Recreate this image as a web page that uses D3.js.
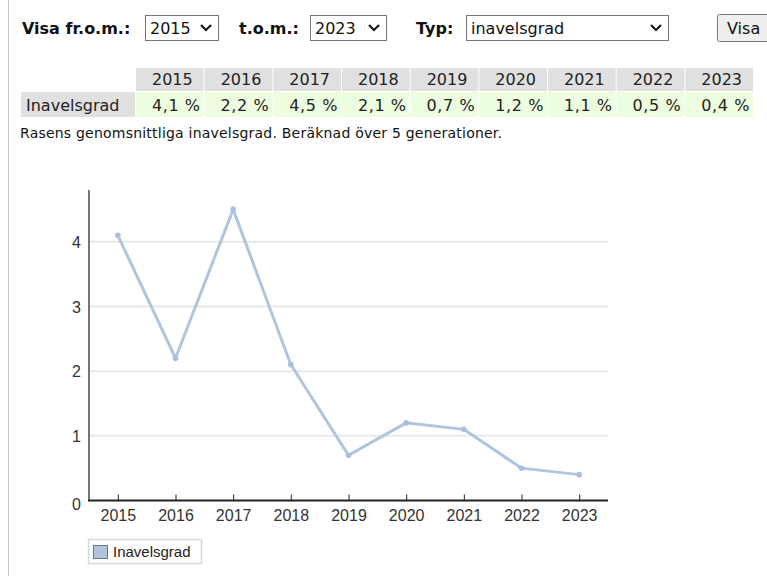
<!DOCTYPE html>
<html>
<head>
<meta charset="utf-8">
<script src="https://cdn.jsdelivr.net/npm/d3@7"></script>
<style>
  body { margin: 0; background: #fff; }
  svg text { font-family: "DejaVu Sans", Verdana, sans-serif; }
  .chart text { font-family: "Liberation Sans", Arial, sans-serif; }
</style>
</head>
<body>
<svg id="page" width="767" height="576"></svg>
<script>
// data
var years = ["2015", "2016", "2017", "2018", "2019", "2020", "2021", "2022", "2023"];
var values = [4.1, 2.2, 4.5, 2.1, 0.7, 1.2, 1.1, 0.5, 0.4];
var yTicks = [0, 1, 2, 3, 4];
var seriesName = "Inavelsgrad";
var caption = "Rasens genomsnittliga inavelsgrad. Beräknad över 5 generationer.";

const svg = d3.select('#page');
const lineColor = "#b0c4de";

// left page border
svg.append('line').attr('x1', 8.5).attr('x2', 8.5).attr('y1', 0).attr('y2', 576)
    .attr('stroke', '#c8c8c8');

// ---- top form row ----
const form = svg.append('g');
const label = (x, t) => form.append('text').attr('x', x).attr('y', 34)
    .attr('font-size', '16px').attr('font-weight', 'bold').attr('fill', '#111').text(t);

// fake select box with chevron
const selectBox = (x, w, t) => {
    form.append('rect').attr('x', x + 0.5).attr('y', 15.5).attr('width', w).attr('height', 25)
        .attr('fill', '#fff').attr('stroke', '#767676');
    form.append('text').attr('x', x + 5).attr('y', 34).attr('font-size', '16px')
        .attr('fill', '#111').text(t);
    const cx = x + w - 12;
    form.append('path').attr('d', `M${cx - 5},25 L${cx},30 L${cx + 5},25`)
        .attr('fill', 'none').attr('stroke', '#111').attr('stroke-width', 2);
}

label(22, "Visa fr.o.m.:");
selectBox(145, 73, years[0]);
label(239, "t.o.m.:");
selectBox(310, 76, years[years.length - 1]);
label(416, "Typ:");
selectBox(466, 202, "inavelsgrad");

form.append('rect').attr('x', 717.5).attr('y', 14.5).attr('width', 60).attr('height', 27)
    .attr('rx', 2).attr('fill', '#efefef').attr('stroke', '#767676');
form.append('text').attr('x', 727).attr('y', 34).attr('font-size', '16px')
    .attr('fill', '#111').text("Visa");

// ---- table ----
const colX = d3.scaleBand().domain(years).range([136, 754]);
const table = svg.append('g');
const headTop = 68, headH = 23, rowTop = 92, rowH = 25;

table.selectAll('rect.head').data(years).enter().append('rect')
    .attr('class', 'head')
    .attr('x', d => colX(d)).attr('y', headTop)
    .attr('width', colX.bandwidth() - 1).attr('height', headH)
    .attr('fill', '#e0e0e0');
table.selectAll('text.head').data(years).enter().append('text')
    .attr('class', 'head')
    .attr('x', d => colX(d) + colX.bandwidth() / 2 + 2).attr('y', headTop + 17)
    .attr('text-anchor', 'middle').attr('font-size', '16px').attr('fill', '#222')
    .text(d => d);

table.append('rect').attr('x', 21).attr('y', rowTop)
    .attr('width', 114).attr('height', rowH).attr('fill', '#e0e0e0');
table.append('text').attr('x', 26).attr('y', rowTop + 19)
    .attr('font-size', '16px').attr('fill', '#222').text(seriesName);

table.selectAll('rect.val').data(values).enter().append('rect')
    .attr('class', 'val')
    .attr('x', (d, i) => colX(years[i])).attr('y', rowTop)
    .attr('width', colX.bandwidth() - 1).attr('height', rowH)
    .attr('fill', '#edfde0');
table.selectAll('text.val').data(values).enter().append('text')
    .attr('class', 'val')
    .attr('x', (d, i) => colX(years[i]) + colX.bandwidth() - 4).attr('y', rowTop + 19)
    .attr('text-anchor', 'end').attr('font-size', '16px').attr('fill', '#222')
    .attr('letter-spacing', '0.6px')
    .text(d => d3.format('.1f')(d).replace('.', ',') + ' %');

svg.append('text').attr('x', 20).attr('y', 138).attr('font-size', '14px')
    .attr('fill', '#111').attr('textLength', 482).text(caption);

// ---- chart ----
const chart = svg.append('g').attr('class', 'chart');
const x = d3.scalePoint().domain(years).range([89, 608]).padding(0.5);
const y = d3.scaleLinear().domain([0, 4.8]).range([500.5, 190]);

// gridlines
chart.append('g').selectAll('line').data(yTicks.slice(1)).enter().append('line')
    .attr('x1', 89).attr('x2', 608)
    .attr('y1', d => y(d)).attr('y2', d => y(d))
    .attr('stroke', '#e8e8e8').attr('stroke-width', 2);

// y axis
const yAxis = chart.append('g').attr('transform', 'translate(89,0)')
    .call(d3.axisLeft(y).tickValues(yTicks).tickSize(0).tickPadding(8).tickFormat(d3.format('d')));
yAxis.select('.domain').attr('stroke', '#777').attr('stroke-width', 2)
    .attr('d', `M0,${y.range()[1]}V${y.range()[0]}`);
yAxis.selectAll('text').attr('font-size', '16px').attr('fill', '#333')
    .attr('dy', (d) => d === 0 ? '0.55em' : '0.35em');

// x axis
const xAxis = chart.append('g').attr('transform', `translate(0,${y(0)})`)
    .call(d3.axisBottom(x).tickSize(-6).tickPadding(9));
xAxis.select('.domain').attr('stroke', '#222').attr('stroke-width', 2)
    .attr('d', 'M88,0H608');
xAxis.selectAll('.tick line').attr('stroke', '#222');
xAxis.selectAll('text').attr('font-size', '16px').attr('fill', '#333');

// series line
const line = d3.line().x((d, i) => x(years[i])).y(d => y(d));
chart.append('path').datum(values)
    .attr('d', line).attr('fill', 'none')
    .attr('stroke', lineColor).attr('stroke-width', 3);
chart.selectAll('circle').data(values).enter().append('circle')
    .attr('cx', (d, i) => x(years[i])).attr('cy', d => y(d)).attr('r', 2.8)
    .attr('fill', '#a9bedb');

// legend
const legend = chart.append('g');
legend.append('rect').attr('x', 88.5).attr('y', 539.5).attr('width', 113).attr('height', 24)
    .attr('fill', '#fff').attr('stroke', '#d8d8d8').attr('stroke-width', 1.5);
legend.append('rect').attr('x', 93.5).attr('y', 545.5).attr('width', 14).attr('height', 13)
    .attr('fill', lineColor).attr('stroke', '#6d7683');
legend.append('text').attr('x', 113).attr('y', 557).attr('font-size', '15px')
    .attr('fill', '#222').text(seriesName);
</script>
</body>
</html>
